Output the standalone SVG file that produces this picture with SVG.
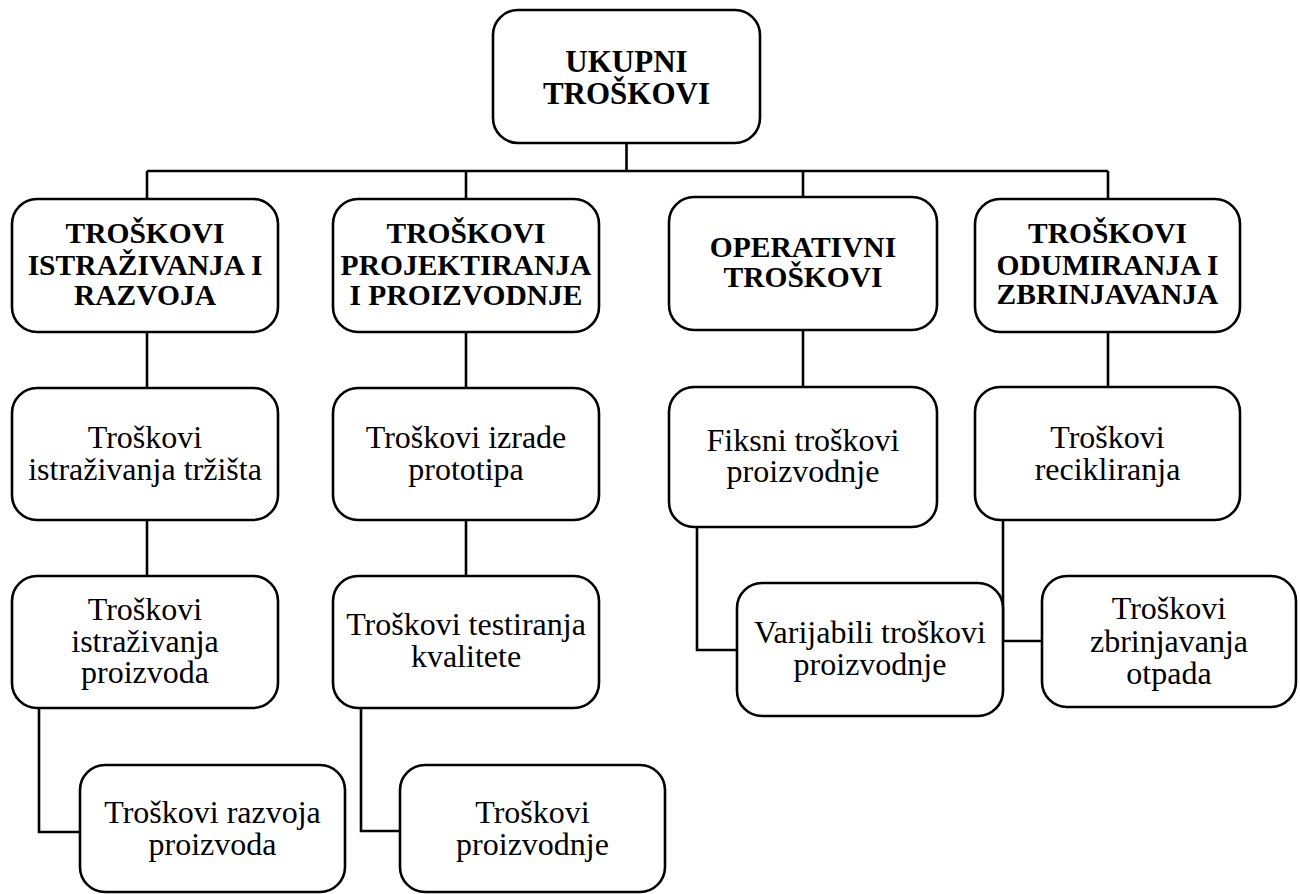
<svg xmlns="http://www.w3.org/2000/svg" width="1300" height="894" viewBox="0 0 1300 894">
<style>
.box{fill:#fff;stroke:#000;stroke-width:2.6}
.ln{fill:none;stroke:#000;stroke-width:2.6}
text{font-family:'Liberation Serif','Times New Roman',serif;text-anchor:middle;fill:#000}
.b{font-weight:bold;font-size:29.5px}
.t{font-weight:normal;font-size:32px}
.bt{font-weight:bold;font-size:31px}
</style>
<rect width="1300" height="894" fill="#fff"/>
<g id="connectors">
<path class="ln" d="M626.5 143V171M147 171H1108M147 171V199M466 171V199M803 171V197M1108 171V199"/>
<path class="ln" d="M147 332V388M466 332V388M803 330V387M1108 332V387"/>
<path class="ln" d="M147 520V576M466 520V576"/>
<path class="ln" d="M39 708V832H80M361 708V831H400"/>
<path class="ln" d="M697 527V650H737M1003 520V641H1042"/>
</g>
<g id="n0"><rect class="box" x="493" y="10" width="267" height="133" rx="25"/>
<text class="bt" x="626.5" y="72">UKUPNI</text><text class="bt" x="626.5" y="104">TROŠKOVI</text></g>
<g id="n1"><rect class="box" x="12" y="199" width="266" height="133" rx="25"/>
<text class="b" x="145" y="243">TROŠKOVI</text><text class="b" x="145" y="275">ISTRAŽIVANJA I</text><text class="b" x="145" y="305">RAZVOJA</text></g>
<g id="n2"><rect class="box" x="333" y="199" width="266" height="133" rx="25"/>
<text class="b" x="466" y="243">TROŠKOVI</text><text class="b" x="466" y="275">PROJEKTIRANJA</text><text class="b" x="466" y="305">I PROIZVODNJE</text></g>
<g id="n3"><rect class="box" x="669" y="197" width="268" height="133" rx="25"/>
<text class="b" x="803" y="257">OPERATIVNI</text><text class="b" x="803" y="287">TROŠKOVI</text></g>
<g id="n4"><rect class="box" x="975" y="199" width="265" height="133" rx="25"/>
<text class="b" x="1107.5" y="243">TROŠKOVI</text><text class="b" x="1107.5" y="275">ODUMIRANJA I</text><text class="b" x="1107.5" y="304">ZBRINJAVANJA</text></g>
<g id="n5"><rect class="box" x="12" y="388" width="266" height="132" rx="25"/>
<text class="t" x="145" y="448">Troškovi</text><text class="t" x="145" y="480">istraživanja tržišta</text></g>
<g id="n6"><rect class="box" x="333" y="388" width="266" height="132" rx="25"/>
<text class="t" x="466" y="448">Troškovi izrade</text><text class="t" x="466" y="480">prototipa</text></g>
<g id="n7"><rect class="box" x="669" y="387" width="268" height="140" rx="25"/>
<text class="t" x="803" y="451">Fiksni troškovi</text><text class="t" x="803" y="482">proizvodnje</text></g>
<g id="n8"><rect class="box" x="975" y="387" width="265" height="133" rx="25"/>
<text class="t" x="1107.5" y="448">Troškovi</text><text class="t" x="1107.5" y="480">recikliranja</text></g>
<g id="n9"><rect class="box" x="12" y="576" width="266" height="132" rx="25"/>
<text class="t" x="145" y="620">Troškovi</text><text class="t" x="145" y="652">istraživanja</text><text class="t" x="145" y="683">proizvoda</text></g>
<g id="n10"><rect class="box" x="333" y="576" width="266" height="132" rx="25"/>
<text class="t" x="466" y="635">Troškovi testiranja</text><text class="t" x="466" y="667">kvalitete</text></g>
<g id="n11"><rect class="box" x="737" y="583" width="266" height="133" rx="25"/>
<text class="t" x="870" y="643">Varijabili troškovi</text><text class="t" x="870" y="675">proizvodnje</text></g>
<g id="n12"><rect class="box" x="1042" y="576" width="254" height="131" rx="25"/>
<text class="t" x="1169" y="619">Troškovi</text><text class="t" x="1169" y="652">zbrinjavanja</text><text class="t" x="1169" y="684">otpada</text></g>
<g id="n13"><rect class="box" x="80" y="765" width="265" height="127" rx="25"/>
<text class="t" x="212.5" y="823">Troškovi razvoja</text><text class="t" x="212.5" y="855">proizvoda</text></g>
<g id="n14"><rect class="box" x="400" y="765" width="265" height="127" rx="25"/>
<text class="t" x="532.5" y="823">Troškovi</text><text class="t" x="532.5" y="855">proizvodnje</text></g>
</svg>
